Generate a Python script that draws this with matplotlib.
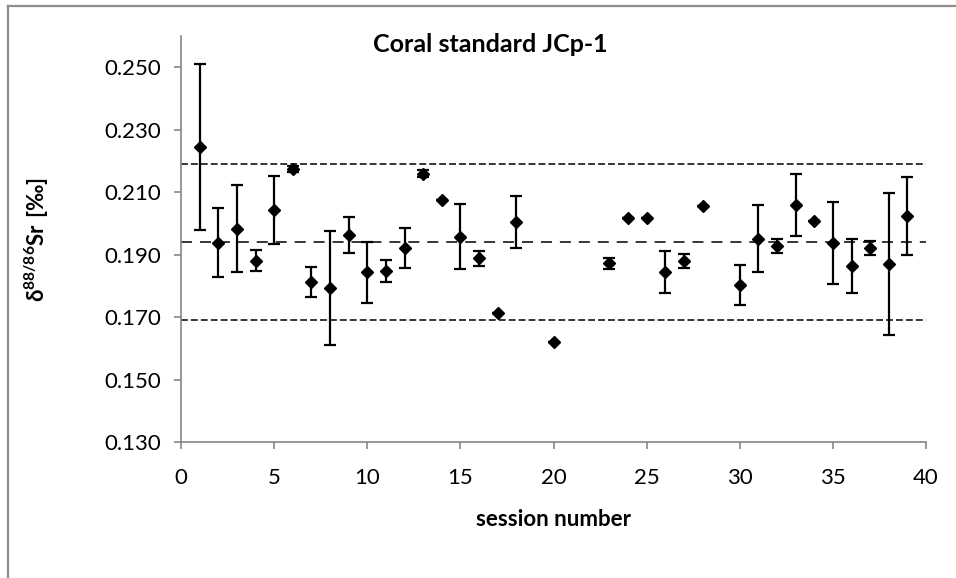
import matplotlib
matplotlib.use('Agg')
import matplotlib.pyplot as plt
from matplotlib.lines import Line2D

plt.rcParams['font.family'] = ['Lato', 'DejaVu Sans']
plt.rcParams['mathtext.fontset'] = 'custom'
plt.rcParams['mathtext.rm'] = 'Lato'
plt.rcParams['mathtext.bf'] = 'Lato:bold'

# JCp-1 coral standard, one value per measurement session
session = [1, 2, 3, 4, 5, 6, 7, 8, 9, 10, 11, 12, 13, 14, 15, 16, 17, 18, 20,
           23, 24, 25, 26, 27, 28, 30, 31, 32, 33, 34, 35, 36, 37, 38, 39]
delta_sr = [0.2245, 0.1938, 0.1983, 0.1881, 0.2043, 0.2175, 0.1812, 0.1794,
            0.1964, 0.1843, 0.1848, 0.1921, 0.2159, 0.2074, 0.1958, 0.1888,
            0.1712, 0.2005, 0.1620, 0.1872, 0.2017, 0.2017, 0.1844, 0.1879,
            0.2056, 0.1802, 0.1951, 0.1927, 0.2059, 0.2007, 0.1938, 0.1864,
            0.1922, 0.1869, 0.2024]
err = [0.0266, 0.0110, 0.0140, 0.0034, 0.0108, 0.0010, 0.0049, 0.0182,
       0.0058, 0.0097, 0.0035, 0.0065, 0.0012, 0.0, 0.0103, 0.0024,
       0.0, 0.0084, 0.0, 0.0018, 0.0, 0.0, 0.0066, 0.0023,
       0.0, 0.0064, 0.0107, 0.0023, 0.0100, 0.0, 0.0132, 0.0087,
       0.0022, 0.0227, 0.0125]

# long-term mean and 2 sd band
mean_val = 0.194
upper_val = 0.219
lower_val = 0.169

fig = plt.figure(figsize=(9.56, 5.78), dpi=100)
ax = fig.add_axes([181 / 956, 1 - 442 / 578, (926 - 181) / 956, (442 - 36) / 578])

grey = '#868686'

ax.plot([0, 40], [upper_val, upper_val], color='black', lw=1.1, dashes=(4.5, 2))
ax.plot([0, 40], [lower_val, lower_val], color='black', lw=1.1, dashes=(4.5, 2))
ax.plot([0, 40], [mean_val, mean_val], color='black', lw=1.1, dashes=(7.2, 5.2))

ax.errorbar(session, delta_sr, yerr=err, fmt='D', color='black', ms=6.3,
            elinewidth=1.6, capsize=4.3, capthick=1.6, zorder=3)

ax.set_xlim(0, 40)
ax.set_ylim(0.130, 0.260)
ax.set_xticks(range(0, 41, 5))
ax.set_yticks([0.130, 0.150, 0.170, 0.190, 0.210, 0.230, 0.250])
ax.set_yticklabels(['%.3f' % v for v in ax.get_yticks()])

for side in ['top', 'right']:
    ax.spines[side].set_visible(False)
for side in ['left', 'bottom']:
    ax.spines[side].set_color(grey)
    ax.spines[side].set_linewidth(1.2)
ax.tick_params(colors=grey, labelcolor='black', labelsize=16, length=5, width=1.2)
ax.tick_params(axis='x', pad=14)
ax.tick_params(axis='y', pad=9)

ax.set_xlabel('session number', fontsize=16, fontweight='bold', labelpad=15)
fig.text(37 / 956, 1 - 240 / 578, r'$\mathbf{δ^{88/86}Sr\ [‰]}$', fontsize=16,
         rotation=90, ha='center', va='center')
fig.text(490 / 956, 1 - 45 / 578, 'Coral standard JCp-1', fontsize=18,
         fontweight='bold', ha='center', va='center')

# chart frame
fig.add_artist(Line2D([8 / 956, 8 / 956], [0, 1 - 6 / 578], color='#8c8c8c', lw=1.6))
fig.add_artist(Line2D([8 / 956, 1], [1 - 6 / 578, 1 - 6 / 578], color='#8c8c8c', lw=1.6))

fig.savefig('out.png', dpi=100)
